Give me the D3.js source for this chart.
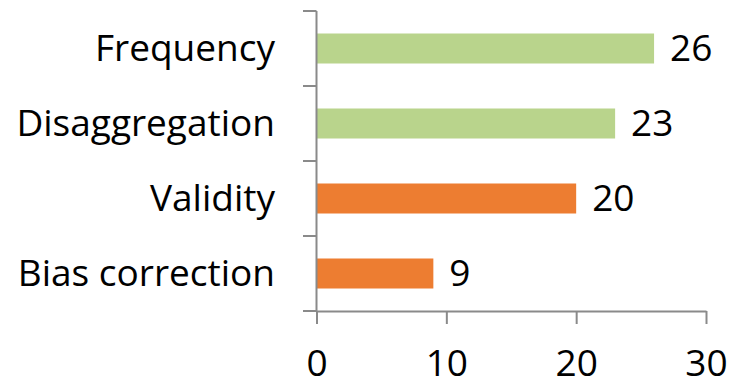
<!DOCTYPE html>
<html>
<head>
<meta charset="utf-8">
<script src="https://cdn.jsdelivr.net/npm/d3@7"></script>
<style>
  html, body { margin: 0; padding: 0; background: #fff; }
  svg { display: block; }
  text { font-family: "Open Sans", Lato, sans-serif; fill: #000; font-variant-ligatures: none; }
</style>
</head>
<body>
<svg id="chart" width="744" height="384"></svg>
<script>
// Categories, top to bottom
const categories = ["Frequency", "Disaggregation", "Validity", "Bias correction"];
const values = [26, 23, 20, 9];
const barColors = ["#b9d48c", "#b9d48c", "#ed7d31", "#ed7d31"];
const xTicks = [0, 10, 20, 30];

const plotLeft = 316.5, plotRight = 706, plotTop = 11, plotBottom = 311;
const axisColor = "#8a8a8a";
const fontSize = 37;
const fontFamily = "'Open Sans', Lato, sans-serif";

const svg = d3.select("#chart");

const x = d3.scaleLinear().domain([0, 30]).range([plotLeft, plotRight]);
const y = d3.scaleBand().domain(categories).range([plotTop, plotBottom])
  .paddingInner(0.6).paddingOuter(0.3);

// Bars
svg.append("g").selectAll("rect")
  .data(categories)
  .join("rect")
  .attr("x", x(0))
  .attr("y", d => y(d))
  .attr("width", (d, i) => x(values[i]) - x(0))
  .attr("height", y.bandwidth())
  .attr("fill", (d, i) => barColors[i]);

// Value labels
svg.append("g").selectAll("text")
  .data(categories)
  .join("text")
  .attr("x", (d, i) => x(values[i]) + 16)
  .attr("y", d => y(d) + y.bandwidth() / 2 + 12.5)
  .attr("font-size", fontSize)
  .text((d, i) => values[i]);

// Category labels
svg.append("g").selectAll("text")
  .data(categories)
  .join("text")
  .attr("x", 275)
  .attr("y", d => y(d) + y.bandwidth() / 2 + 12.5)
  .attr("text-anchor", "end")
  .attr("font-size", fontSize)
  .text(d => d);

// Vertical axis with ticks at band boundaries
const step = y.step();
const bounds = categories.map(c => y(c) - (step - y.bandwidth()) / 2);
bounds.push(plotBottom);
const yAxis = svg.append("g");
yAxis.append("line")
  .attr("x1", plotLeft).attr("x2", plotLeft)
  .attr("y1", plotTop).attr("y2", plotBottom)
  .attr("stroke", axisColor).attr("stroke-width", 2);
yAxis.selectAll("line.tick")
  .data(bounds)
  .join("line")
  .attr("class", "tick")
  .attr("x1", plotLeft - 13.5).attr("x2", plotLeft)
  .attr("y1", d => d).attr("y2", d => d)
  .attr("stroke", axisColor).attr("stroke-width", 2);

// Horizontal axis
const xAxis = d3.axisBottom(x).tickValues(xTicks).tickSize(13).tickSizeOuter(0);
const gx = svg.append("g").attr("transform", `translate(0,${plotBottom})`).call(xAxis);
gx.select(".domain").attr("stroke", axisColor).attr("stroke-width", 2);
gx.selectAll(".tick line").attr("stroke", axisColor).attr("stroke-width", 2);
gx.selectAll(".tick text")
  .attr("y", 65)
  .attr("dy", 0)
  .attr("font-size", fontSize)
  .attr("font-family", fontFamily)
  .attr("fill", "#000");
</script>
</body>
</html>
